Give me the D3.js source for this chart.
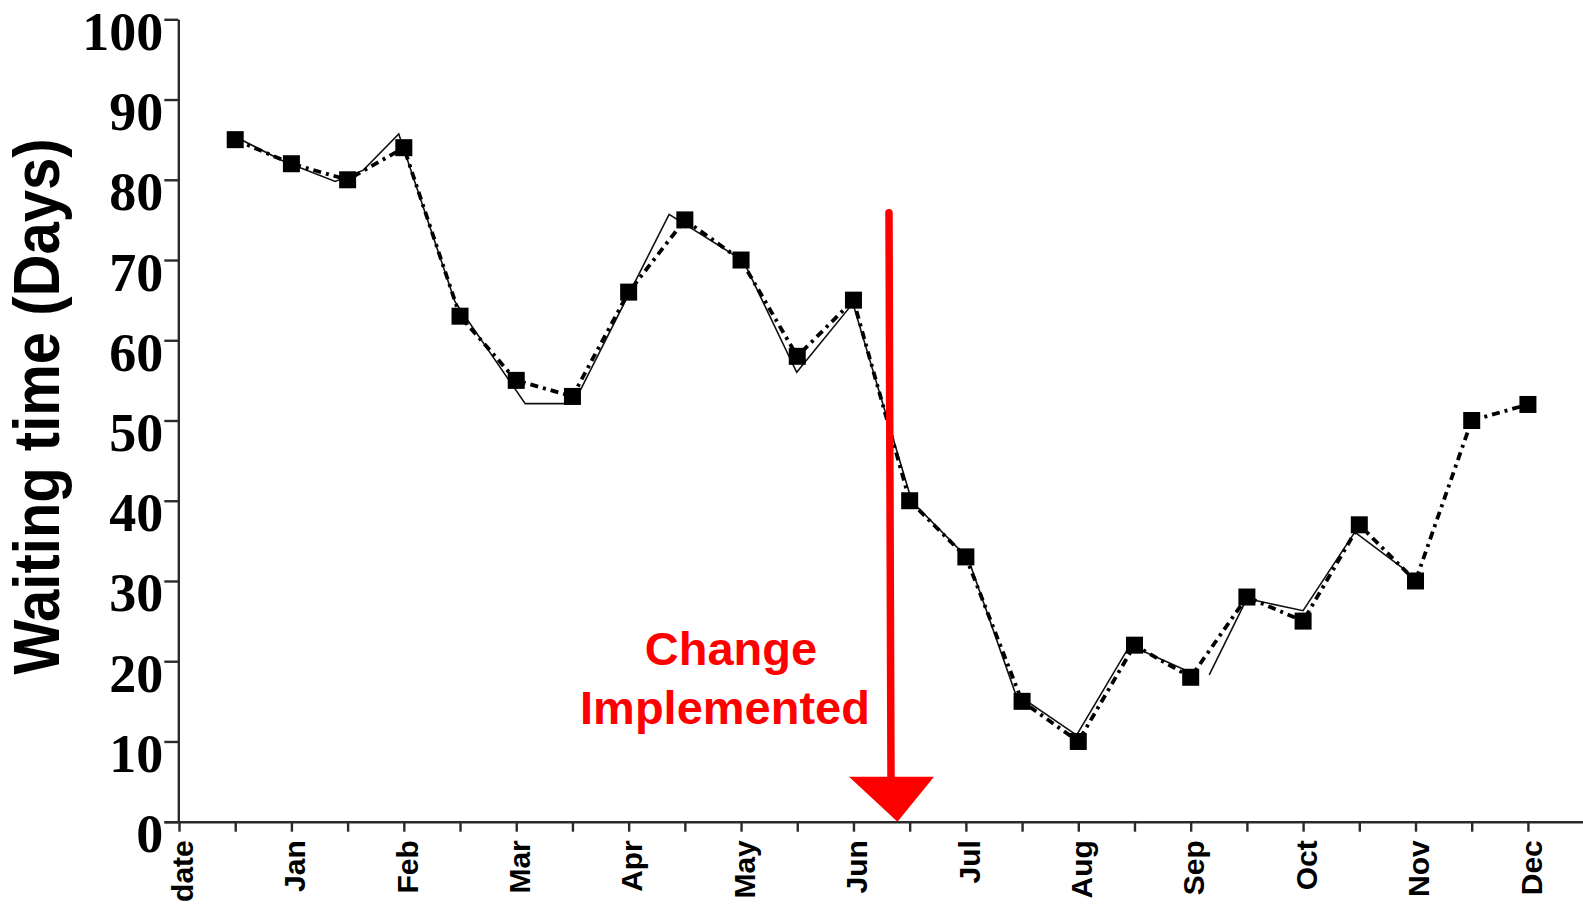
<!DOCTYPE html>
<html>
<head>
<meta charset="utf-8">
<script src="https://cdn.jsdelivr.net/npm/d3@7"></script>
<style>
  html, body { margin: 0; padding: 0; background: #fff; }
  svg { display: block; }
</style>
</head>
<body>
<svg id="chart" width="1583" height="906"></svg>
<script>
// ---------------- data ----------------
// 25 half-month tick positions (index 0..24); labels on even indices
const tickLabels = ["date", "Jan", "Feb", "Mar", "Apr", "May", "Jun", "Jul", "Aug", "Sep", "Oct", "Nov", "Dec"];
const yTicks = [0, 10, 20, 30, 40, 50, 60, 70, 80, 90, 100];

// marker series (dash-dot line with squares), positions 1..24
const markerIndex = [1, 2, 3, 4, 5, 6, 7, 8, 9, 10, 11, 12, 13, 14, 15, 16, 17, 18, 19, 20, 21, 22, 23, 24];
const markerValues = [85, 82, 80, 84, 63, 55, 53, 66, 75, 70, 58, 65, 40, 33, 15, 10, 22, 18, 28, 25, 37, 30, 50, 52];

// thin solid series (own vertices, broken after Sep)
const solidIndex = [0.91, 1.86, 2.78, 3.28, 3.91, 4.91, 6.16, 7.02, 8.72, 10.04, 10.99, 11.99, 13.04, 14.04, 14.88, 15.97, 16.92, 17.9, null,
                    18.33, 19.0, 20.0, 20.92, 21.85];
const solidValues = [85.7, 82.3, 79.8, 81.2, 85.7, 64.8, 52.1, 52.1, 75.7, 69.9, 56.0, 64.6, 39.9, 32.8, 16.0, 10.8, 22.0, 18.9, null,
                     18.3, 27.8, 26.3, 36.1, 31.2];

// annotation
const annotationLines = ["Change", "Implemented"];
const arrowIndex = 12.65;    // x position (tick index units)
const arrowTop = 75.9;       // y value where shaft starts
const arrowHeadBase = 5.6;   // y value of arrowhead base
const yTitle = "Waiting time (Days)";

// ---------------- chart ----------------
const svg = d3.select("#chart");

const x = d3.scaleLinear().domain([-0.267, 24.98]).range([164, 1583]);
const y = d3.scaleLinear().domain([0, 100]).range([821.7, 19.3]);

const axisColor = "#2a2a2a";

// X axis
const xAxis = d3.axisBottom(x)
  .tickValues(d3.range(25))
  .tickSize(10)
  .tickSizeOuter(0)
  .tickFormat(i => (i % 2 === 0 ? tickLabels[i / 2] : ""));

const gx = svg.append("g")
  .attr("transform", `translate(0,${y(0)})`)
  .call(xAxis);
gx.select(".domain").attr("stroke", axisColor).attr("stroke-width", 2.4);
gx.selectAll(".tick line").attr("stroke", axisColor).attr("stroke-width", 2.4);
gx.selectAll(".tick text")
  .attr("transform", "rotate(-90)")
  .attr("x", -18.5)
  .attr("y", 0)
  .attr("dy", "0.44em")
  .attr("text-anchor", "end")
  .attr("fill", "#000")
  .style("font-family", "'Liberation Sans', Arial, sans-serif")
  .style("font-weight", "bold")
  .style("font-size", "30px");

// Y axis
const yAxis = d3.axisLeft(y)
  .tickValues(yTicks)
  .tickSize(14)
  .tickSizeOuter(0)
  .tickPadding(1);

const gy = svg.append("g")
  .attr("transform", `translate(${x(0) - 0.7},0)`)
  .call(yAxis);
gy.select(".domain").attr("stroke", axisColor).attr("stroke-width", 2.4);
gy.selectAll(".tick line").attr("stroke", axisColor).attr("stroke-width", 2.4);
gy.selectAll(".tick text")
  .attr("dy", "30px")
  .attr("fill", "#000")
  .style("font-family", "'Liberation Serif', 'Times New Roman', serif")
  .style("font-weight", "bold")
  .style("font-size", "54px");

// Y title
svg.append("text")
  .attr("transform", `translate(58.5,${(y(0) + y(100)) / 2 - 14}) rotate(-90)`)
  .attr("text-anchor", "middle")
  .attr("textLength", 536)
  .attr("lengthAdjust", "spacingAndGlyphs")
  .style("font-family", "'Liberation Sans', Arial, sans-serif")
  .style("font-weight", "bold")
  .style("font-size", "65px")
  .attr("fill", "#000")
  .text(yTitle);

// thin solid series
const solidData = solidIndex.map((d, i) => ({ i: d, v: solidValues[i] }));
svg.append("path")
  .datum(solidData)
  .attr("fill", "none")
  .attr("stroke", "#111")
  .attr("stroke-width", 1.6)
  .attr("d", d3.line()
    .defined(d => d.i !== null && d.v !== null)
    .x(d => x(d.i))
    .y(d => y(d.v)));

// dash-dot series
const markerData = markerIndex.map((d, i) => ({ i: d, v: markerValues[i] }));
svg.append("path")
  .datum(markerData)
  .attr("fill", "none")
  .attr("stroke", "#000")
  .attr("stroke-width", 3.8)
  .attr("stroke-dasharray", "8,5,3,5")
  .attr("d", d3.line().x(d => x(d.i)).y(d => y(d.v)));

// square markers
const ms = 17;
svg.append("g").selectAll("rect")
  .data(markerData)
  .join("rect")
  .attr("x", d => x(d.i) - ms / 2)
  .attr("y", d => y(d.v) - ms / 2)
  .attr("width", ms)
  .attr("height", ms)
  .attr("fill", "#000");

// red arrow annotation
const red = "#ff0000";
svg.append("line")
  .attr("x1", x(arrowIndex) - 1)
  .attr("y1", y(arrowTop))
  .attr("x2", x(arrowIndex) + 1)
  .attr("y2", y(arrowHeadBase) + 2)
  .attr("stroke", red)
  .attr("stroke-width", 7.5)
  .attr("stroke-linecap", "round");

svg.append("path")
  .attr("fill", red)
  .attr("d", d3.line()([
    [x(arrowIndex) - 41, y(arrowHeadBase)],
    [x(arrowIndex) + 44, y(arrowHeadBase)],
    [x(arrowIndex) + 7.5, y(0)]
  ]));

svg.append("g").selectAll("text")
  .data(annotationLines)
  .join("text")
  .attr("x", (d, i) => (i === 0 ? 731 : 725))
  .attr("y", (d, i) => (i === 0 ? 665 : 723.5))
  .attr("text-anchor", "middle")
  .attr("fill", red)
  .style("font-family", "'Liberation Sans', Arial, sans-serif")
  .style("font-weight", "bold")
  .style("font-size", "47px")
  .text(d => d);
</script>
</body>
</html>
